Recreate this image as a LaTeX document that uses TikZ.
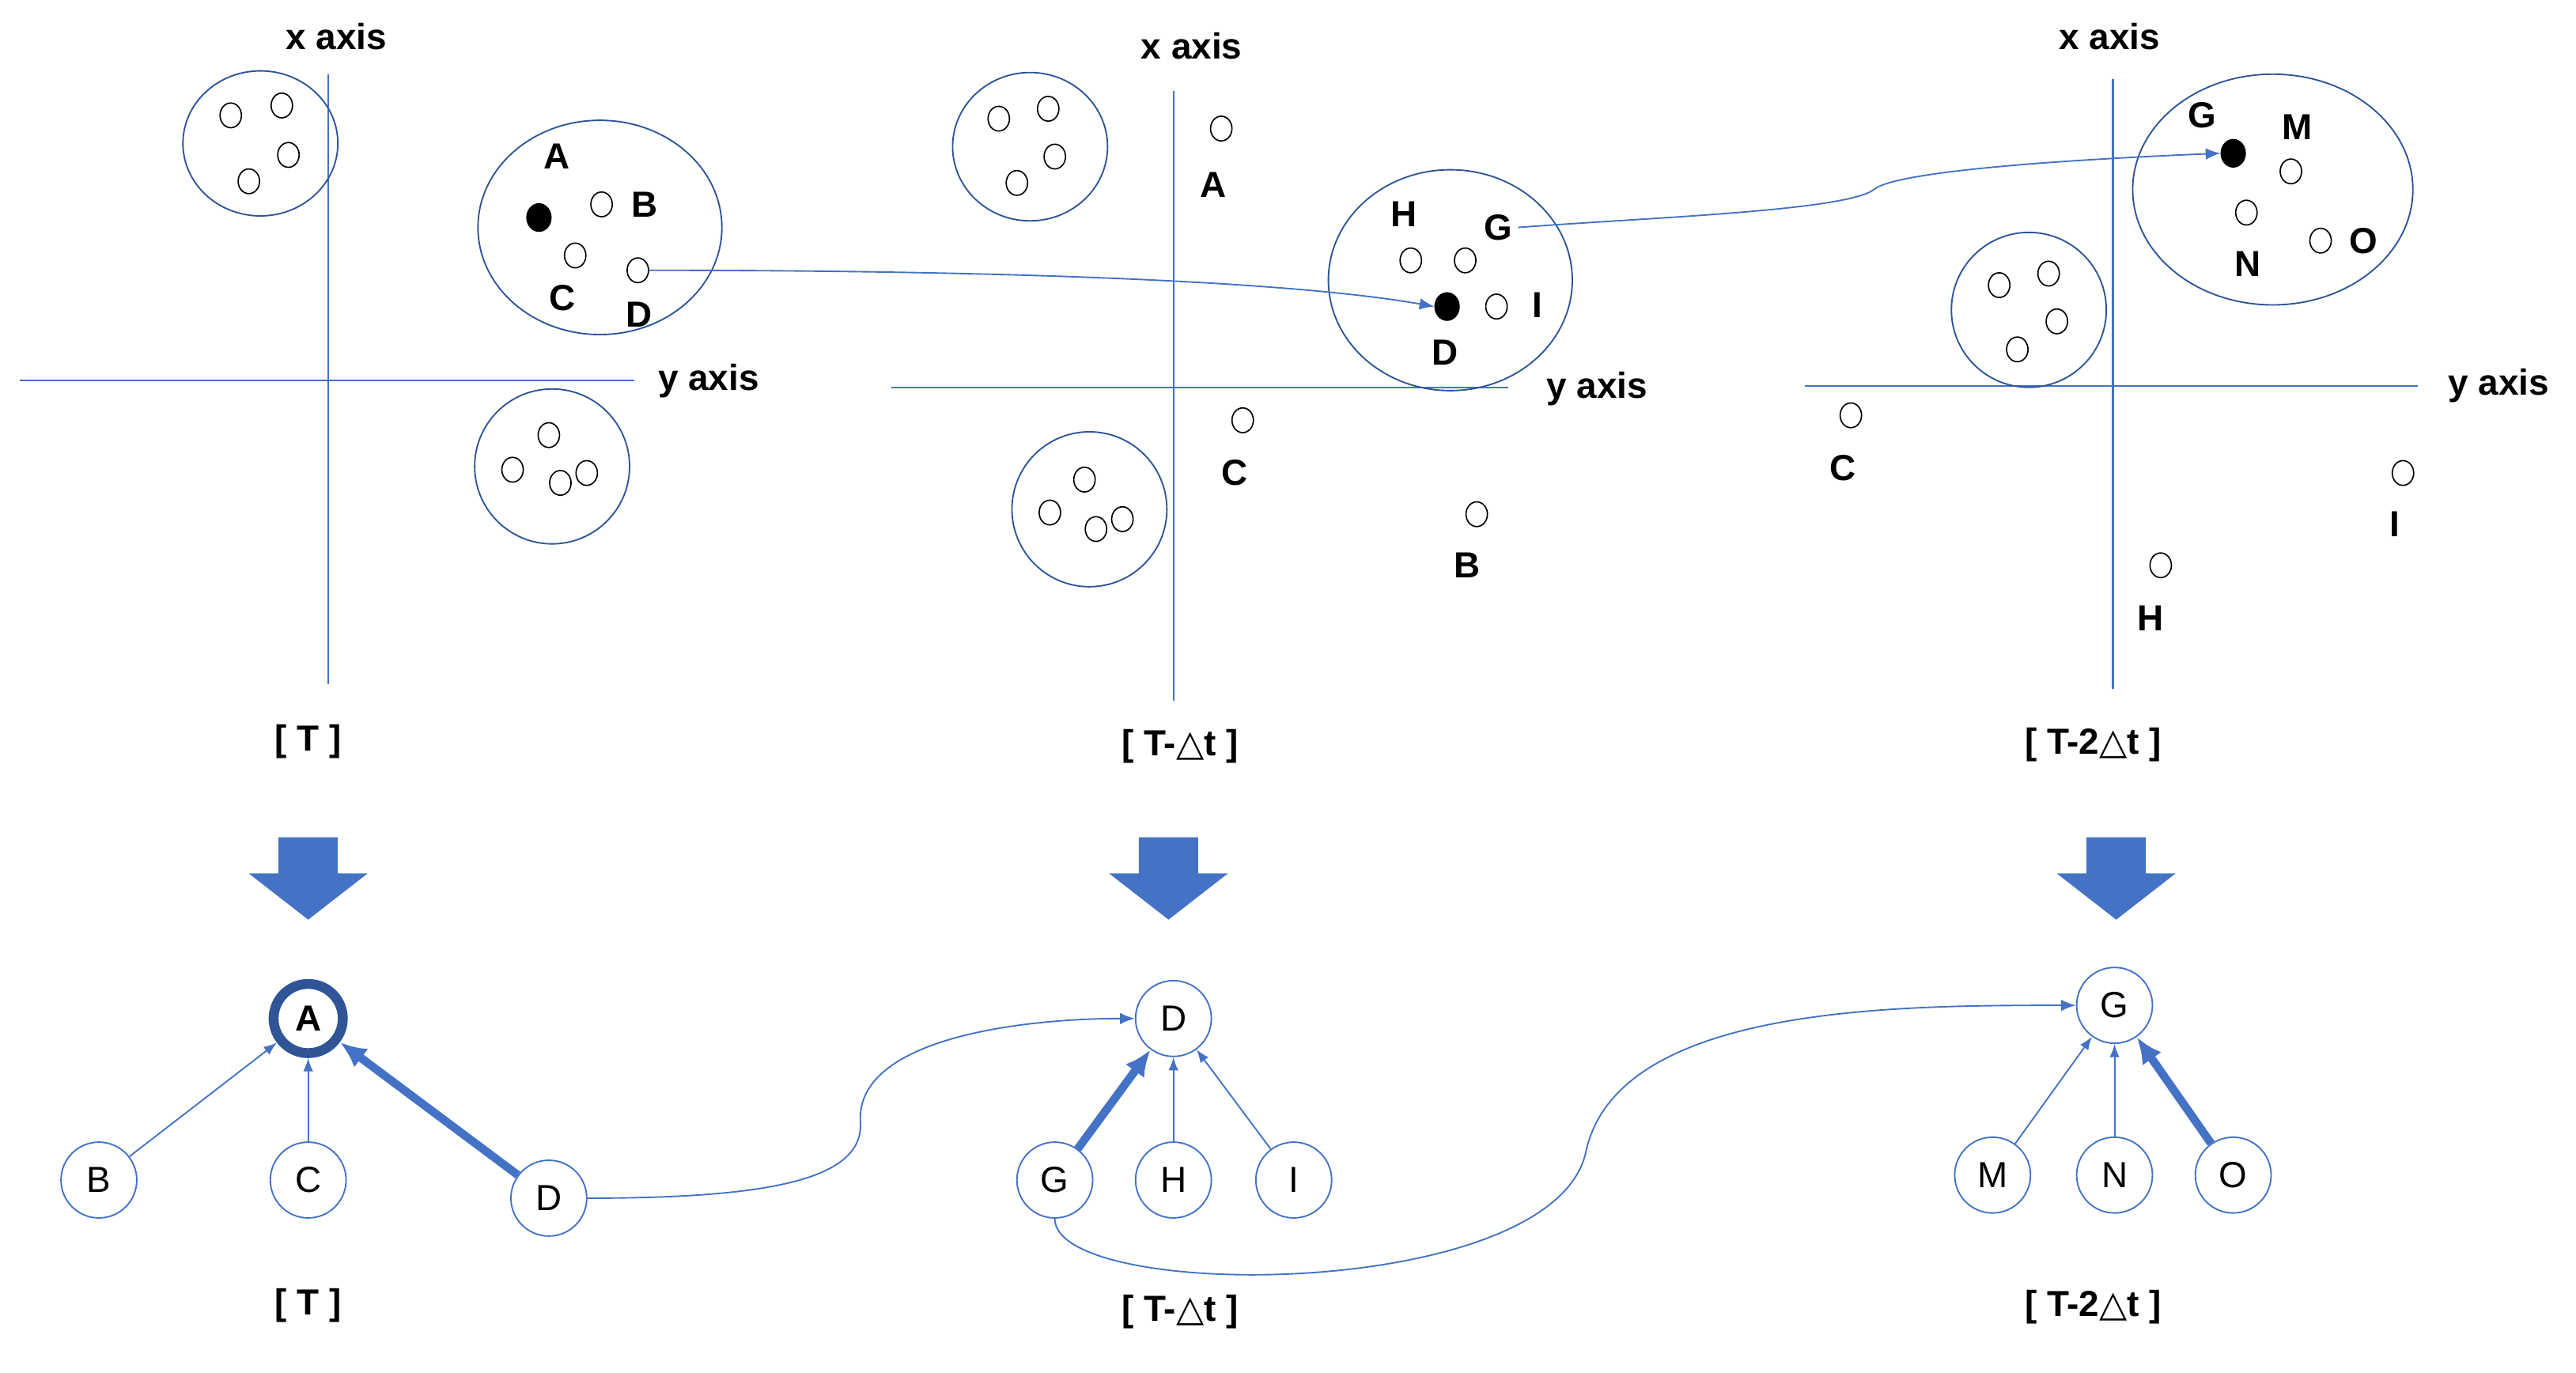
\documentclass[tikz,border=0pt]{standalone}
\usepackage{fontspec}
\setmainfont{Liberation Sans}
\newfontfamily\tri{DejaVu Sans}
\usetikzlibrary{arrows.meta,shapes.geometric}
\definecolor{bl}{HTML}{4472C4}
\definecolor{dbl}{HTML}{2F5597}
\newcommand{\dt}{{\tri\char"25B3}}
\begin{document}
\begin{tikzpicture}[x=1pt,y=-1pt,
  ax/.style={draw=bl,line width=1pt},
  cl/.style={draw=dbl,line width=0.9pt},
  sm/.style={draw=black,line width=0.8pt,fill=white,ellipse,minimum width=13pt,minimum height=15pt,inner sep=0pt},
  fd/.style={draw=black,fill=black,ellipse,minimum width=15pt,minimum height=17pt,inner sep=0pt},
  lb/.style={font=\bfseries\fontsize{22}{24}\selectfont},
  tl/.style={font=\bfseries\fontsize{22}{24}\selectfont},
  tn/.style={circle,draw=bl,line width=0.9pt,minimum size=46pt,inner sep=0pt,font=\fontsize{22}{24}\selectfont},
  ta/.style={-{Latex[length=8pt,width=6pt]},draw=bl,line width=0.9pt},
  tk/.style={-{Latex[length=16pt,width=14pt]},draw=bl,line width=5pt},
  cn/.style={-{Latex[length=9pt,width=7pt]},draw=bl,line width=0.9pt},
  ba/.style={fill=bl,draw=none}]
\useasboundingbox (0,0) rectangle (1563,833);
% ---------- panel 1
\draw[ax] (199,45) -- (199,415);
\draw[ax] (12,231) -- (385,231);
\node[lb] (x1) at (204,22) {x axis};
\node[lb] (y1) at (430,231) {y axis};
\draw[cl] (158,87) ellipse (47 and 44);
\foreach \p in {(140,70),(171,64),(175,94),(151,110)} \node[sm] at \p {};
\draw[cl] (364,138) ellipse (74 and 65);
\node[fd] (pA) at (327,132) {};
\node[sm] (pB) at (365,124) {};
\node[sm] (pC) at (349,155) {};
\node[sm] (pD) at (387,164) {};
\node[lb] at (338,95) {A};
\node[lb] at (391,124) {B};
\node[lb] at (341,181) {C};
\node[lb] at (388,191) {D};
\draw[cl] (335,283) ellipse (47 and 47);
\foreach \p in {(333,264),(311,285),(340,293),(356,287)} \node[sm] at \p {};
\node[tl] (t1) at (187,450) {[ T ]};
% ---------- panel 2
\draw[ax] (712,55) -- (712,425);
\draw[ax] (541,235) -- (915,235);
\node[lb] (x2) at (723,28) {x axis};
\node[lb] (y2) at (969,236) {y axis};
\draw[cl] (625,89) ellipse (47 and 45);
\foreach \p in {(606,72),(636,66),(640,95),(617,111)} \node[sm] at \p {};
\node[sm] (qA) at (741,78) {};
\node[lb] at (736,112) {A};
\draw[cl] (880,170) ellipse (74 and 67);
\node[sm] (qH) at (856,158) {};
\node[sm] (qG) at (889,158) {};
\node[sm] (qI) at (908,186) {};
\node[fd] (qD) at (878,186) {};
\node[lb] at (852,130) {H};
\node[lb] (lG) at (909,138) {G};
\node[lb] at (933,185) {I};
\node[lb] at (877,214) {D};
\node[sm] (qC) at (754,255) {};
\node[lb] at (749,287) {C};
\node[sm] (qB) at (896,312) {};
\node[lb] at (890,343) {B};
\draw[cl] (661,309) ellipse (47 and 47);
\foreach \p in {(658,291),(637,311),(665,321),(681,315)} \node[sm] at \p {};
\node[tl] (t2) at (716,453) {[ T-\dt t ]};
% ---------- panel 3
\draw[ax] (1282,48) -- (1282,418);
\draw[ax] (1095,234) -- (1467,234);
\node[lb] (x3) at (1280,22) {x axis};
\node[lb] (y3) at (1516,234) {y axis};
\draw[cl] (1379,115) ellipse (85 and 70);
\node[fd] (rG) at (1355,93) {};
\node[sm] (rM) at (1390,104) {};
\node[sm] (rN) at (1363,129) {};
\node[sm] (rO) at (1408,146) {};
\node[lb] at (1336,70) {G};
\node[lb] at (1394,77) {M};
\node[lb] at (1364,160) {N};
\node[lb] at (1434,146) {O};
\draw[cl] (1231,188) ellipse (47 and 47);
\foreach \p in {(1213,173),(1243,166),(1248,195),(1224,212)} \node[sm] at \p {};
\node[sm] (rC) at (1123,252) {};
\node[lb] at (1118,284) {C};
\node[sm] (rI) at (1458,287) {};
\node[lb] at (1453,318) {I};
\node[sm] (rH) at (1311,343) {};
\node[lb] at (1305,375) {H};
\node[tl] (t3) at (1270,452) {[ T-2\dt t ]};
% tracking arrows
\draw[cn] (pD.east) .. controls (600,164) and (780,170) .. (qD.west);
\draw[cn] (lG.east) .. controls (1000,132) and (1120,128) .. (1137,115) .. controls (1150,104) and (1250,97) .. (rG.west);
% block arrows
\foreach \x in {187,709,1284}
  \fill[ba] (\x-18,508) -- (\x+18,508) -- (\x+18,530) -- (\x+36,530) -- (\x,558) -- (\x-36,530) -- (\x-18,530) -- cycle;
% ---------- trees
\node[tn,draw=dbl,line width=6pt,minimum size=42pt,font=\bfseries\fontsize{22}{24}\selectfont] (A) at (187,618) {A};
\node[tn] (B) at (60,716) {B};
\node[tn] (C) at (187,716) {C};
\node[tn] (D) at (333,727) {D};
\draw[ta] (B) -- (A);
\draw[ta] (C) -- (A);
\draw[tk] (D) -- (A);
\node[tl] (u1) at (187,792) {[ T ]};
\node[tn] (D2) at (712,618) {D};
\node[tn] (G2) at (640,716) {G};
\node[tn] (H2) at (712,716) {H};
\node[tn] (I2) at (785,716) {I};
\draw[tk] (G2) -- (D2);
\draw[ta] (H2) -- (D2);
\draw[ta] (I2) -- (D2);
\node[tl] (u2) at (716,796) {[ T-\dt t ]};
\node[tn] (G3) at (1283,610) {G};
\node[tn] (M3) at (1209,713) {M};
\node[tn] (N3) at (1283,713) {N};
\node[tn] (O3) at (1355,713) {O};
\draw[ta] (M3) -- (G3);
\draw[ta] (N3) -- (G3);
\draw[tk] (O3) -- (G3);
\node[tl] (u3) at (1270,793) {[ T-2\dt t ]};
% links between trees
\draw[cn] (D.east) .. controls (470,727) and (525,715) .. (522,680) .. controls (520,630) and (620,618) .. (D2.west);
\draw[cn] (G2.south) .. controls (640,790) and (940,790) .. (962,700) .. controls (980,610) and (1150,610) .. (G3.west);
\end{tikzpicture}
\end{document}
